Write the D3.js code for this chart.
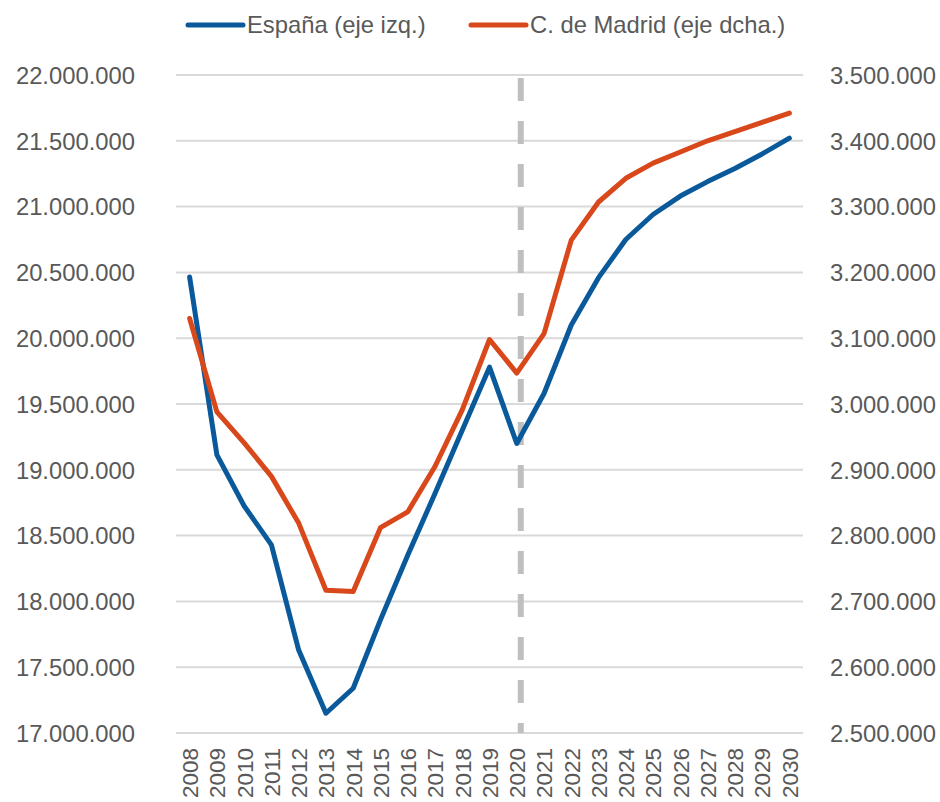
<!doctype html>
<meta charset="utf8">
<style>
  body { margin: 0; background: #fff; }
  svg text { font-family: "Liberation Sans", Arial, sans-serif; fill: #595959; }
</style>
<body>
<div id="chart"></div>

<script src="https://d3js.org/d3.v7.min.js"></script>
<script>
(function() {

const years = ["2008", "2009", "2010", "2011", "2012", "2013", "2014", "2015",
  "2016", "2017", "2018", "2019", "2020", "2021", "2022", "2023", "2024",
  "2025", "2026", "2027", "2028", "2029", "2030"];

// España, left axis
const espana = [20465000, 19113000, 18725000, 18430000, 17630000, 17150000,
  17340000, 17860000, 18350000, 18820000, 19300000, 19780000, 19200000,
  19580000, 20100000, 20460000, 20750000, 20940000, 21080000, 21190000,
  21290000, 21400000, 21520000];

// Comunidad de Madrid, right axis
const madrid = [3130000, 2988000, 2941000, 2890000, 2819000, 2717000,
  2715000, 2812000, 2836000, 2905000, 2991000, 3098000, 3047000,
  3107000, 3249000, 3307000, 3343000, 3366000, 3383000, 3400000,
  3414000, 3428000, 3442000];

const leftTicks = d3.range(17000000, 22000001, 500000);
const rightTicks = d3.range(2500000, 3500001, 100000);
const splitYear = "2020";

const series = [
  {name: "España (eje izq.)", values: espana, axis: "left", color: "#0A5A9B"},
  {name: "C. de Madrid (eje dcha.)", values: madrid, axis: "right", color: "#D9481B"},
];

const W = 940, H = 802;
const margin = {top: 75, right: 137, bottom: 69, left: 176};

const es = d3.formatLocale({decimal: ",", thousands: ".", grouping: [3], currency: ["", "€"]});
const fmt = es.format(",d");

const svg = d3.select("#chart").append("svg")
  .attr("width", W)
  .attr("height", H);

const x = d3.scalePoint()
  .domain(years)
  .range([margin.left, W - margin.right])
  .padding(0.5);

const yLeft = d3.scaleLinear()
  .domain([17000000, 22000000])
  .range([H - margin.bottom, margin.top]);

const yRight = d3.scaleLinear()
  .domain([2500000, 3500000])
  .range([H - margin.bottom, margin.top]);

// grid
svg.append("g")
  .selectAll("line")
  .data(leftTicks)
  .join("line")
    .attr("x1", margin.left)
    .attr("x2", W - margin.right)
    .attr("y1", d => yLeft(d))
    .attr("y2", d => yLeft(d))
    .attr("stroke", "#d9d9d9")
    .attr("stroke-width", 2);

// left axis
const gl = svg.append("g")
  .attr("transform", `translate(${margin.left - 41},0)`)
  .call(d3.axisLeft(yLeft).tickValues(leftTicks).tickFormat(fmt).tickSize(0).tickPadding(0));
gl.select(".domain").remove();
gl.selectAll("text").attr("font-size", 23.8).attr("fill", "#595959").attr("dy", "0.35em");

// right axis
const gr = svg.append("g")
  .attr("transform", `translate(${W - margin.right + 27},0)`)
  .call(d3.axisRight(yRight).tickValues(rightTicks).tickFormat(fmt).tickSize(0).tickPadding(0));
gr.select(".domain").remove();
gr.selectAll("text").attr("font-size", 23.8).attr("fill", "#595959").attr("dy", "0.35em");

// bottom axis, rotated year labels
const gb = svg.append("g")
  .attr("transform", `translate(0,${H - margin.bottom})`)
  .call(d3.axisBottom(x).tickSize(0).tickPadding(0));
gb.select(".domain").remove();
gb.selectAll("text")
  .attr("font-size", 22.5)
  .attr("fill", "#595959")
  .attr("text-anchor", "end")
  .attr("transform", "rotate(-90)")
  .attr("x", -15)
  .attr("y", 0)
  .attr("dy", "0.35em");

// 2020 split line
svg.append("line")
  .attr("x1", x(splitYear) + 4)
  .attr("x2", x(splitYear) + 4)
  .attr("y1", yLeft(22000000) + 3)
  .attr("y2", yLeft(17000000))
  .attr("stroke", "#bfbfbf")
  .attr("stroke-width", 6)
  .attr("stroke-dasharray", "23,20");

// series lines
for (const s of series) {
  const y = s.axis === "left" ? yLeft : yRight;
  const line = d3.line()
    .x((d, i) => x(years[i]))
    .y(d => y(d));
  svg.append("path")
    .datum(s.values)
    .attr("fill", "none")
    .attr("stroke", s.color)
    .attr("stroke-width", 5)
    .attr("stroke-linejoin", "round")
    .attr("stroke-linecap", "round")
    .attr("d", line);
}

// legend
const legendX = [188, 471];
const legend = svg.append("g")
  .selectAll("g")
  .data(series)
  .join("g")
    .attr("transform", (d, i) => `translate(${legendX[i]},25)`);
legend.append("line")
  .attr("x1", 0).attr("x2", 55)
  .attr("stroke", d => d.color)
  .attr("stroke-width", 5)
  .attr("stroke-linecap", "round");
legend.append("text")
  .attr("x", 59)
  .attr("dy", "0.35em")
  .attr("font-size", 23.8)
  .text(d => d.name);

})();
</script>
</body>
